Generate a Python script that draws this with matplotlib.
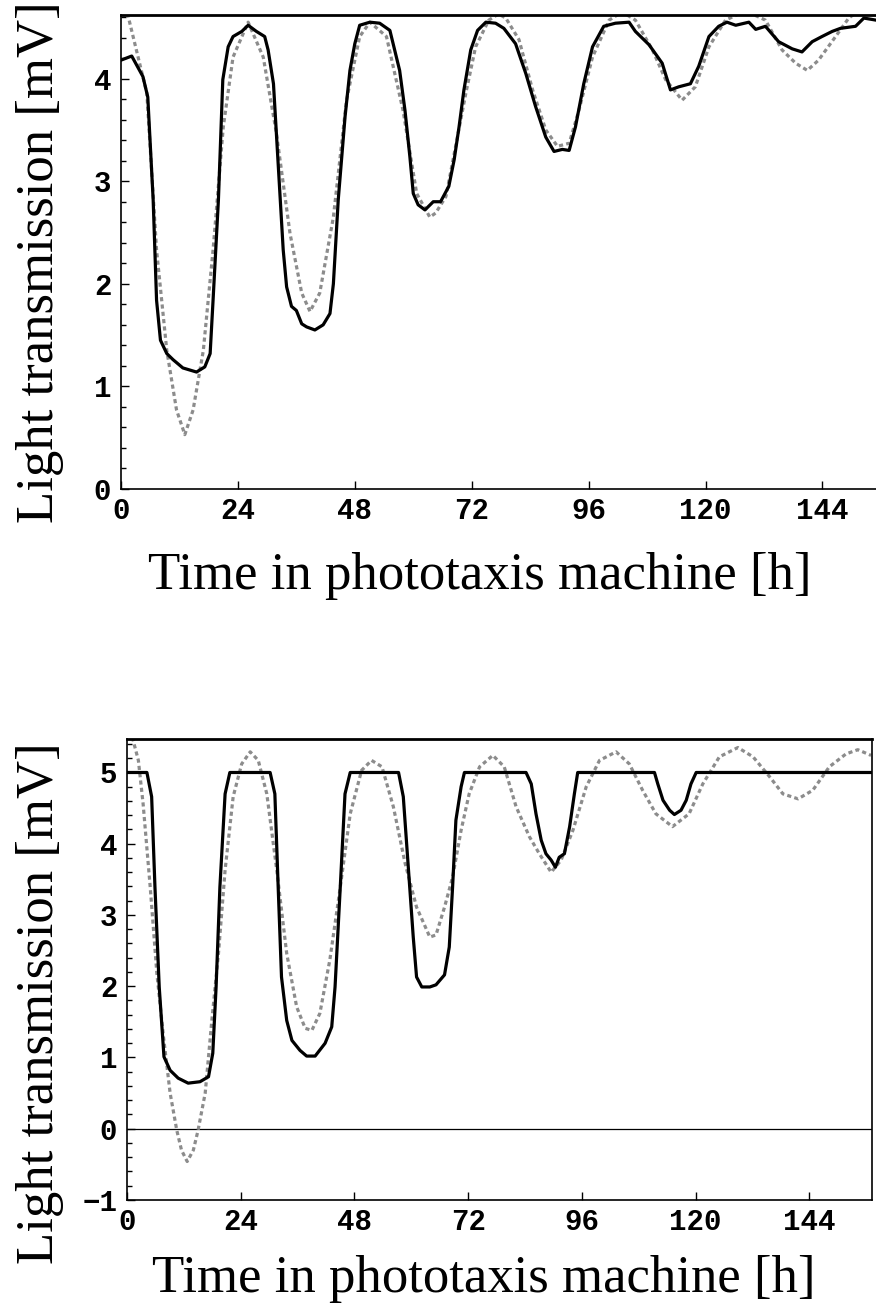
import numpy as np
import matplotlib
matplotlib.use("Agg")
import matplotlib.pyplot as plt
from matplotlib.ticker import MultipleLocator

# -----------------------
# Data
# -----------------------
# top panel, measured (solid)
top_meas_t = [0.0, 2.2, 4.5, 5.5, 6.6, 7.3, 8.1, 9.4, 10.7, 12.7, 15.5, 17.2, 18.3, 18.9,
              20.0, 20.9, 22.0, 23.0, 24.8, 26.1, 27.8, 29.5, 30.2, 31.3, 32.3, 33.3, 34.0,
              35.0, 36.0, 37.1, 38.1, 39.8, 41.5, 42.9, 43.6, 44.6, 46.0, 47.0, 48.0, 49.0,
              51.1, 53.1, 55.2, 57.2, 58.3, 59.3, 60.0, 61.0, 62.4, 64.1, 65.6, 67.3, 68.4,
              69.4, 70.4, 71.8, 73.2, 74.9, 76.9, 78.6, 81.0, 83.1, 85.1, 87.2, 88.9, 90.6,
              92.0, 93.3, 95.0, 96.8, 99.1, 101.5, 104.3, 105.6, 108.4, 111.1, 112.8, 114.5,
              116.9, 118.6, 120.7, 122.7, 124.4, 126.2, 128.9, 130.3, 132.3, 135.0, 137.8,
              139.8, 141.9, 143.9, 146.0, 147.7, 150.8, 152.5, 155.0]
top_meas_v = [4.18, 4.22, 4.02, 3.82, 2.82, 1.84, 1.45, 1.32, 1.26, 1.18, 1.14, 1.19, 1.32, 1.84,
              2.82, 3.99, 4.31, 4.41, 4.46, 4.52, 4.46, 4.41, 4.28, 3.95, 3.14, 2.33, 1.97,
              1.78, 1.74, 1.61, 1.58, 1.55, 1.60, 1.71, 2.00, 2.82, 3.63, 4.08, 4.34, 4.52,
              4.55, 4.54, 4.47, 4.08, 3.69, 3.24, 2.88, 2.77, 2.72, 2.80, 2.80, 2.95, 3.21,
              3.53, 3.89, 4.28, 4.47, 4.55, 4.54, 4.49, 4.34, 4.05, 3.73, 3.43, 3.29, 3.31,
              3.30, 3.53, 3.95, 4.31, 4.51, 4.54, 4.55, 4.46, 4.33, 4.15, 3.89, 3.92,
              3.95, 4.12, 4.41, 4.51, 4.55, 4.52, 4.55, 4.48, 4.51, 4.36, 4.29,
              4.26, 4.36, 4.41, 4.46, 4.49, 4.51, 4.59, 4.57]

# top panel, model (dashed)
top_model_t = [0.0, 1.0, 5.3, 7.3, 9.4, 11.4, 13.1, 14.8, 16.9, 18.9, 21.0, 23.0, 26.1, 29.2,
               31.9, 34.7, 37.1, 38.8, 40.8, 43.6, 46.3, 49.0, 51.1, 54.5, 57.9, 60.7, 63.4,
               64.6, 66.7, 68.7, 70.8, 72.8, 75.5, 77.5, 79.0, 81.7, 84.5, 87.2, 89.6, 92.0,
               94.0, 96.8, 100.2, 102.9, 105.6, 109.1, 111.8, 115.2, 117.9, 120.7, 124.1,
               128.2, 132.3, 135.7, 138.5, 140.9, 143.2, 146.7, 149.4, 151.4, 155.0]
top_model_v = [5.2, 4.70, 3.86, 2.33, 1.35, 0.77, 0.53, 0.77, 1.35, 2.33, 3.53, 4.21, 4.55, 4.21,
               3.47, 2.49, 1.91, 1.73, 1.91, 2.65, 3.79, 4.41, 4.55, 4.41, 3.69, 2.88, 2.65,
               2.69, 2.85, 3.34, 3.86, 4.31, 4.57, 4.63, 4.59, 4.38, 3.89, 3.50, 3.34, 3.37,
               3.69, 4.21, 4.57, 4.65, 4.57, 4.28, 3.99, 3.79, 3.92, 4.31, 4.57,
               4.66, 4.57, 4.28, 4.15, 4.08, 4.18, 4.41, 4.59, 4.66, 4.72]

# bottom panel, measured (solid)
bot_meas_t = [0.0, 4.2, 5.2, 5.9, 6.8, 7.8, 9.1, 10.8, 12.9, 15.4, 17.2, 18.1, 18.8, 19.6,
              20.7, 21.7, 30.2, 31.2, 31.9, 32.6, 33.7, 34.8, 36.5, 37.9, 39.7, 41.8, 43.2,
              43.9, 45.0, 46.0, 47.1, 57.3, 58.3, 59.4, 60.4, 61.1, 62.2, 63.9, 65.2, 67.0,
              68.0, 68.7, 69.4, 70.5, 71.2, 84.2, 85.3, 86.3, 87.4, 88.4, 89.5, 90.4, 91.2,
              92.3, 93.4, 94.4, 95.1, 111.3, 112.0, 113.1, 114.5, 115.5, 116.9, 118.0, 119.0,
              120.1, 157.0]
bot_meas_v = [5.0, 5.0, 4.66, 3.39, 1.99, 1.01, 0.82, 0.71, 0.64, 0.66, 0.73, 1.06, 1.99, 3.39,
              4.70, 5.0, 5.0, 4.70, 3.39, 2.13, 1.52, 1.24, 1.10, 1.02, 1.02, 1.20, 1.43,
              1.99, 3.39, 4.70, 5.0, 5.0, 4.66, 3.63, 2.69, 2.13, 1.99, 1.99, 2.02, 2.16,
              2.55, 3.39, 4.33, 4.80, 5.0, 5.0, 4.84, 4.42, 4.05, 3.86, 3.77, 3.67, 3.81,
              3.86, 4.24, 4.70, 5.0, 5.0, 4.84, 4.61, 4.47, 4.41, 4.47, 4.61, 4.84,
              5.0, 5.0]

# bottom panel, model (dashed)
bot_model_t = [0.0, 1.3, 2.4, 3.4, 4.9, 6.3, 7.7, 9.1, 10.5, 11.5, 12.7, 14.0, 15.0, 16.5,
               17.9, 19.3, 20.7, 22.4, 24.2, 26.0, 27.7, 29.5, 31.6, 33.7, 35.8, 37.6, 39.0,
               40.7, 42.8, 45.0, 47.1, 49.5, 51.6, 53.8, 56.2, 58.7, 61.1, 63.9, 65.2, 67.0,
               68.7, 70.5, 72.2, 74.4, 77.2, 79.6, 82.1, 84.9, 87.0, 89.5, 91.6, 94.1, 96.9,
               99.7, 103.2, 106.0, 108.8, 111.6, 115.1, 118.6, 121.5, 125.0, 128.9, 132.1,
               135.6, 138.4, 141.6, 144.7, 148.2, 151.7, 154.2, 157.0]
bot_model_v = [5.9, 5.45, 5.17, 4.56, 3.39, 2.18, 1.29, 0.50, -0.02, -0.30, -0.46, -0.30, -0.02,
               0.50, 1.52, 2.46, 3.63, 4.66, 5.12, 5.29, 5.17, 4.70, 3.63, 2.46, 1.71, 1.41,
               1.38, 1.62, 2.37, 3.39, 4.42, 5.03, 5.17, 5.08, 4.52, 3.72, 3.11, 2.69, 2.72,
               3.11, 3.53, 4.19, 4.70, 5.08, 5.24, 5.08, 4.52, 4.10, 3.86, 3.60, 3.77, 4.19,
               4.80, 5.17, 5.29, 5.12, 4.75, 4.42, 4.24, 4.42, 4.84, 5.22, 5.35, 5.22,
               4.94, 4.70, 4.63, 4.75, 5.08, 5.26, 5.32, 5.24]

x_ticks = [0, 24, 48, 72, 96, 120, 144]

W, H = 876, 1304
TICK_FONT = "Liberation Mono"
LABEL_FONT = "Liberation Serif"


def px_axes(fig, left, top, right, bottom):
    """Create an axes from pixel coordinates (origin top-left)."""
    return fig.add_axes([left / W, 1 - bottom / H, (right - left) / W, (bottom - top) / H])


def style_axes(ax, ylim, yticks, xlim):
    ax.set_xlim(*xlim)
    ax.set_ylim(*ylim)
    ax.set_xticks(x_ticks)
    ax.set_yticks(yticks)
    ax.yaxis.set_minor_locator(MultipleLocator(0.2))
    ax.tick_params(which="both", direction="in", labelsize=21, width=1.0,
                   top=False, right=False)
    ax.tick_params(which="major", length=6)
    ax.tick_params(which="minor", length=3.5)
    ax.tick_params(axis="x", pad=6)
    ax.tick_params(axis="y", pad=7)
    for sp in ax.spines.values():
        sp.set_linewidth(1.2)


def font_ticks(ax):
    for lab in ax.get_xticklabels() + ax.get_yticklabels():
        lab.set_fontfamily(TICK_FONT)
        lab.set_fontweight("bold")


fig = plt.figure(figsize=(W / 100, H / 100), dpi=100)

solid_kw = dict(color="black", lw=2.3, solid_joinstyle="round", zorder=3)
dash_kw = dict(color="#8c8c8c", lw=2.3, linestyle=(0, (1.3, 1.0)), zorder=2)

# Top panel
ax1 = px_axes(fig, 121, 15, 877, 489)
ax1.plot(top_model_t, top_model_v, **dash_kw)
ax1.plot(top_meas_t, top_meas_v, **solid_kw)
style_axes(ax1, (0, 4.62), [0, 1, 2, 3, 4], (0, 155.2))
font_ticks(ax1)
ax1.spines["right"].set_visible(False)
ax1.spines["top"].set_linewidth(2.0)

# Bottom panel
ax2 = px_axes(fig, 127, 739, 872, 1200)
ax2.axhline(0, color="black", lw=0.9, zorder=1)
ax2.plot(bot_model_t, bot_model_v, **dash_kw)
ax2.plot(bot_meas_t, bot_meas_v, **solid_kw)
style_axes(ax2, (-1, 5.47), [-1, 0, 1, 2, 3, 4, 5], (0, 157.2))
ax2.set_yticklabels(["\u22121", "0", "1", "2", "3", "4", "5"])
font_ticks(ax2)
ax2.spines["top"].set_linewidth(2.0)

# Axis labels placed in pixel space
label_kw = dict(family=LABEL_FONT, fontsize=38, color="black", ha="center", va="center")
fig.text(40 / W, 1 - 262 / H, "Light transmission [mV]", rotation=90, **label_kw)
fig.text(480 / W, 1 - 576 / H, "Time in phototaxis machine [h]", **label_kw)
fig.text(40 / W, 1 - 1003 / H, "Light transmission [mV]", rotation=90, **label_kw)
fig.text(484 / W, 1 - 1279 / H, "Time in phototaxis machine [h]", **label_kw)

fig.savefig("out.png", dpi=100)
